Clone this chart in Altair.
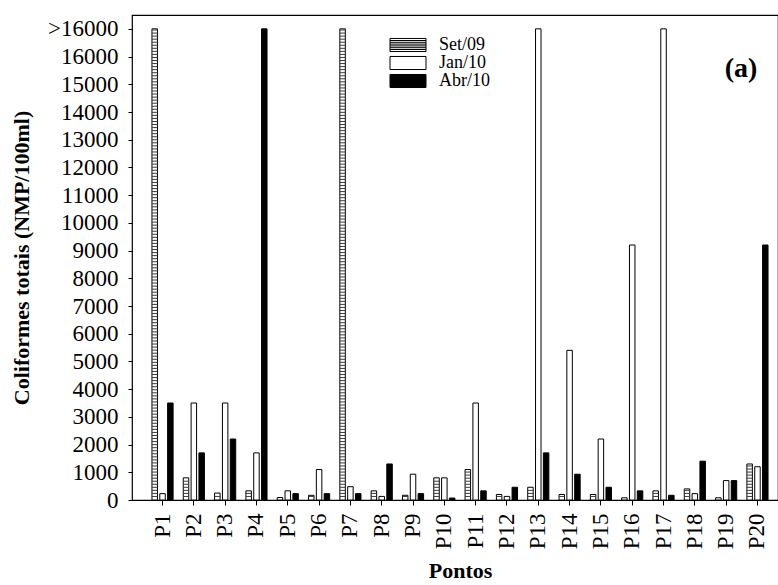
import altair as alt
import pandas as pd

# ---- data ----
pontos = ["P1", "P2", "P3", "P4", "P5", "P6", "P7", "P8", "P9", "P10",
          "P11", "P12", "P13", "P14", "P15", "P16", "P17", "P18", "P19", "P20"]
series = ["Set/09", "Jan/10", "Abr/10"]
# 17000 stands for ">16000"
set09 = [17000, 800, 250, 330, 90, 170, 17000, 330, 170, 800,
         1100, 200, 460, 200, 200, 80, 330, 400, 80, 1300]
jan10 = [230, 3500, 3500, 1700, 330, 1100, 480, 130, 930, 800,
         3500, 130, 17000, 5400, 2200, 9200, 17000, 230, 700, 1200]
abr10 = [3500, 1700, 2200, 17000, 230, 230, 230, 1300, 230, 70,
         330, 460, 1700, 930, 460, 330, 170, 1400, 700, 9200]
y_ticks = [0, 1000, 2000, 3000, 4000, 5000, 6000, 7000, 8000, 9000, 10000,
           11000, 12000, 13000, 14000, 15000, 16000, 17000]

FONT = "Liberation Serif"

rows = []
for s, vals in zip(series, [set09, jan10, abr10]):
    for p, v in zip(pontos, vals):
        rows.append({"ponto": p, "serie": s, "valor": v})
df = pd.DataFrame(rows)

# horizontal hatch texture for the Set/09 bars (decoration only)
STEP = 110
THICK = 36
stripe_rows = []
for p, v in zip(pontos, set09):
    k = 1
    while k * STEP + THICK < v:
        stripe_rows.append({"ponto": p, "serie": "Set/09", "y0": k * STEP, "y1": k * STEP + THICK})
        k += 1
stripes = pd.DataFrame(stripe_rows)

x_scale = alt.Scale(range=[0, 656], paddingInner=0.25, paddingOuter=0.6)
x_axis = alt.Axis(title="Pontos", labelAngle=270, labelFont=FONT, labelFontSize=23,
                  labelColor="black", labelPadding=8, tickSize=5, tickColor="black",
                  domain=False, titleFont=FONT, titleFontSize=22, titleFontWeight="bold",
                  titleColor="black", titlePadding=12)
xoff_scale = alt.Scale(paddingInner=0.3, paddingOuter=0.15)
y_scale = alt.Scale(domain=[0, 17500], nice=False)
y_axis = alt.Axis(title="Coliformes totais (NMP/100ml)", values=y_ticks,
                  labelExpr="datum.value == 17000 ? '>16000' : datum.value",
                  labelOverlap=False,
                  labelFont=FONT, labelFontSize=23, labelColor="black",
                  labelPadding=10, tickSize=4, tickColor="black", domain=False,
                  grid=False, titleFont=FONT, titleFontSize=22,
                  titleFontWeight="bold", titleColor="black", titlePadding=14)


def X():
    return alt.X("ponto:N", sort=pontos, scale=x_scale, axis=x_axis)


def XO():
    return alt.XOffset("serie:N", sort=series, scale=xoff_scale)


stripe_path = ("M-2.4,-0.87H2.4V0.87H-2.4Z M-2.4,-0.6H2.4 M-2.4,-0.36H2.4 M-2.4,-0.12H2.4 "
               "M-2.4,0.12H2.4 M-2.4,0.36H2.4 M-2.4,0.6H2.4")
rect_path = "M-2.4,-0.87H2.4V0.87H-2.4Z"

fill_scale = alt.Scale(domain=series, range=["white", "white", "black"])
stroke_scale = alt.Scale(domain=series, range=["black", "black", "black"])
shape_scale = alt.Scale(domain=series, range=[stripe_path, rect_path, rect_path])
leg = alt.Legend(title=None, orient="none", legendX=267, legendY=21,
                 symbolSize=225, symbolStrokeWidth=1, symbolOpacity=1,
                 labelFont=FONT, labelFontSize=18, labelColor="black",
                 labelOffset=22, rowPadding=0)

bars = alt.Chart(df).mark_bar(strokeWidth=1).encode(
    x=X(),
    xOffset=XO(),
    y=alt.Y("valor:Q", scale=y_scale, axis=y_axis),
    fill=alt.Fill("serie:N", sort=series, scale=fill_scale, legend=leg),
    stroke=alt.Stroke("serie:N", sort=series, scale=stroke_scale, legend=leg),
)

hatch = alt.Chart(stripes).mark_bar(color="#3a3a3a").encode(
    x=X(),
    xOffset=XO(),
    y=alt.Y("y0:Q", scale=y_scale, axis=y_axis),
    y2="y1:Q",
)

# invisible points only to carry the legend patch shapes
legend_pts = alt.Chart(df).mark_point(filled=True, opacity=0, strokeWidth=1).encode(
    x=X(),
    xOffset=XO(),
    y=alt.Y("valor:Q", scale=y_scale, axis=y_axis),
    fill=alt.Fill("serie:N", sort=series, scale=fill_scale, legend=leg),
    stroke=alt.Stroke("serie:N", sort=series, scale=stroke_scale, legend=leg),
    shape=alt.Shape("serie:N", sort=series, scale=shape_scale, legend=leg),
)

label = alt.Chart(pd.DataFrame({"t": ["(a)"]})).mark_text(
    font=FONT, fontSize=28, fontWeight="bold", color="black", align="center", baseline="middle"
).encode(x=alt.value(609), y=alt.value(54), text="t:N")

chart = alt.layer(bars, hatch, legend_pts, label).properties(
    width=646, height=485,
    padding={"left": 132, "top": 15, "right": 0, "bottom": 85},
    autosize=alt.AutoSizeParams(type="none"),
    background="white",
).configure_view(stroke="black", strokeWidth=1.2)

chart.save("out.html", embed_options={"renderer": "svg", "actions": False})
